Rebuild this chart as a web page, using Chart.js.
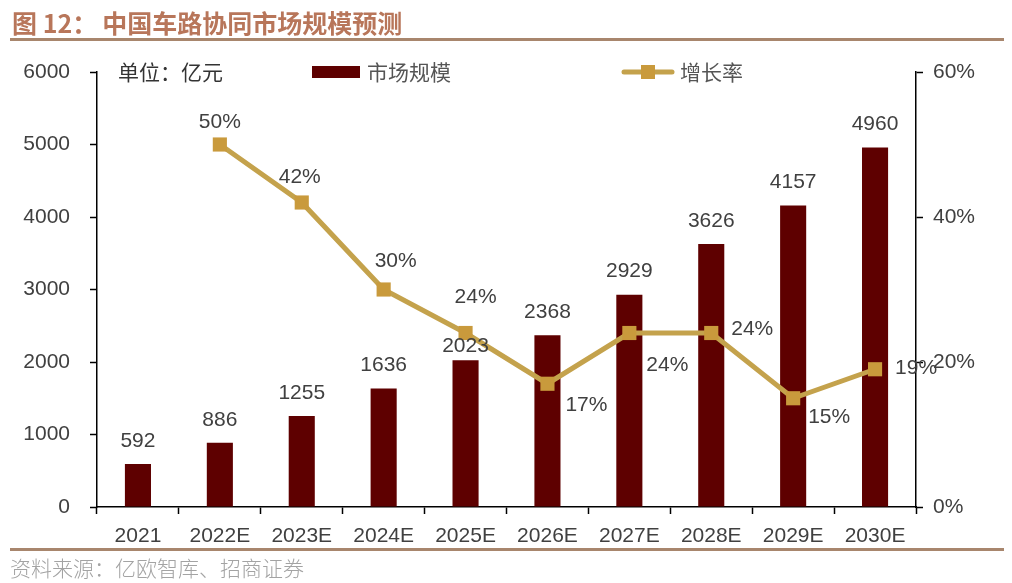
<!DOCTYPE html>
<html>
<head>
<meta charset="utf-8">
<script src="https://cdn.jsdelivr.net/npm/chart.js@4.4.1/dist/chart.umd.min.js"></script>
<style>
  body { margin: 0; background: #fff; }
  .wrap { position: relative; width: 1012px; height: 583px; overflow: hidden; }
  .wrap canvas { position: absolute; left: 0; top: 0; }
  .title {
    position: absolute; left: 12px; top: 4px;
    font: bold 25px "Noto Sans CJK SC", sans-serif;
    color: #b8765a; white-space: nowrap;
  }
  .title span { margin-left: 5px; }
  .rule { position: absolute; left: 10px; width: 994px; height: 3px; background: #a8866d; }
  .source {
    position: absolute; left: 10px; top: 552px;
    font: 300 21px "Noto Sans CJK SC", sans-serif;
    color: #a3a3a3; white-space: nowrap;
  }
</style>
</head>
<body>
<div class="wrap">
  <canvas id="chart" width="1012" height="583"></canvas>
  <div class="title">图 12：<span>中国车路协同市场规模预测</span></div>
  <div class="rule" style="top:38px"></div>
  <div class="rule" style="top:548px"></div>
  <div class="source">资料来源：亿欧智库、招商证券</div>
</div>
<script>
// dados
const years = ['2021', '2022E', '2023E', '2024E', '2025E', '2026E', '2027E', '2028E', '2029E', '2030E'];
const marketSize = [592, 886, 1255, 1636, 2023, 2368, 2929, 3626, 4157, 4960]; // 亿元
const growthRate = [null, 50, 42, 30, 24, 17, 24, 24, 15, 19]; // %
const leftTicks = [0, 1000, 2000, 3000, 4000, 5000, 6000];
const rightTicks = [0, 20, 40, 60];

// onde fica cada rótulo de percentagem em relação ao ponto
const rateLabelOffset = [null, [0, -22], [-2, -25], [12, -28], [10, -36], [39, 21], [38, 32], [41, -4], [36, 19], [41, -1]];

const barColor = '#5e0000';
const lineColor = '#c4a24c';
const markerColor = '#c99a3c';
const textColor = '#404040';
const numFamily = '"Liberation Sans", Arial, sans-serif';
const numFont = '21px ' + numFamily;

const valueLabels = {
  id: 'valueLabels',
  afterDatasetsDraw(chart) {
    const ctx = chart.ctx;
    ctx.save();
    ctx.font = numFont;
    ctx.fillStyle = textColor;
    ctx.textAlign = 'center';
    ctx.textBaseline = 'middle';
    chart.getDatasetMeta(0).data.forEach((bar, i) => {
      const lift = marketSize[i] === 2023 ? 14 : 23; // o 2023 fica mais baixo no original
      ctx.fillText(String(marketSize[i]), bar.x, bar.y - lift);
    });
    chart.getDatasetMeta(1).data.forEach((pt, i) => {
      if (growthRate[i] == null) return;
      const [dx, dy] = rateLabelOffset[i];
      ctx.fillText(growthRate[i] + '%', pt.x + dx, pt.y + dy);
    });
    ctx.restore();
  }
};

// legenda desenhada à mão dentro da área do gráfico
const innerLegend = {
  id: 'innerLegend',
  afterDraw(chart) {
    const ctx = chart.ctx;
    const a = chart.chartArea;
    const y = a.top;
    ctx.save();
    ctx.font = '21px "Noto Sans CJK SC", sans-serif';
    ctx.textBaseline = 'middle';
    ctx.textAlign = 'left';
    ctx.fillStyle = '#333';
    ctx.fillText('单位：亿元', a.left + 21, y);

    ctx.fillStyle = barColor;
    ctx.fillRect(a.left + 215, y - 6, 48, 12);
    ctx.fillStyle = '#555';
    ctx.fillText('市场规模', a.left + 270, y);

    ctx.strokeStyle = lineColor;
    ctx.lineWidth = 5;
    ctx.lineCap = 'round';
    ctx.beginPath();
    ctx.moveTo(a.left + 527, y);
    ctx.lineTo(a.left + 575, y);
    ctx.stroke();
    ctx.fillStyle = markerColor;
    ctx.fillRect(a.left + 544, y - 7, 14, 14);
    ctx.fillStyle = '#555';
    ctx.fillText('增长率', a.left + 583, y);
    ctx.restore();
  }
};

const tickFont = { family: numFamily, size: 21 };
const axisGrid = { drawOnChartArea: false, drawTicks: true, tickLength: 7, tickColor: '#000', tickWidth: 1.5 };

const config = {
  data: {
    labels: years,
    datasets: [
      {
        type: 'bar',
        label: '市场规模',
        data: marketSize,
        backgroundColor: barColor,
        barPercentage: 0.65,
        categoryPercentage: 0.49,
        yAxisID: 'y',
        order: 2
      },
      {
        type: 'line',
        label: '增长率',
        data: growthRate,
        borderColor: lineColor,
        borderWidth: 5,
        tension: 0,
        pointStyle: 'rect',
        pointRadius: 10,
        pointBorderWidth: 0,
        pointBackgroundColor: markerColor,
        yAxisID: 'y1',
        order: 1
      }
    ]
  },
  options: {
    responsive: false,
    animation: false,
    layout: { padding: { top: 72, left: 0, right: 0, bottom: 0 } },
    plugins: {
      legend: { display: false },
      tooltip: { enabled: false }
    },
    scales: {
      x: {
        afterFit(scale) { scale.height = 583 - 507; },
        grid: { ...axisGrid, offset: true },
        border: { display: true, color: '#000', width: 1.5 },
        ticks: { color: textColor, font: tickFont, padding: 10, maxRotation: 0, autoSkip: false }
      },
      y: {
        position: 'left',
        min: 0,
        max: 6000,
        afterFit(scale) { scale.width = 97; },
        afterBuildTicks(scale) { scale.ticks = leftTicks.map(v => ({ value: v })); },
        grid: axisGrid,
        border: { display: true, color: '#000', width: 1.5 },
        ticks: { color: textColor, font: tickFont, padding: 20, callback: v => String(v) }
      },
      y1: {
        position: 'right',
        min: 0,
        max: 60,
        afterFit(scale) { scale.width = 1012 - 916; },
        afterBuildTicks(scale) { scale.ticks = rightTicks.map(v => ({ value: v })); },
        grid: axisGrid,
        border: { display: true, color: '#000', width: 1.5 },
        ticks: { color: textColor, font: tickFont, padding: 10, callback: v => v + '%' }
      }
    }
  },
  plugins: [valueLabels, innerLegend]
};

new Chart(document.getElementById('chart').getContext('2d'), config);
</script>
</body>
</html>
